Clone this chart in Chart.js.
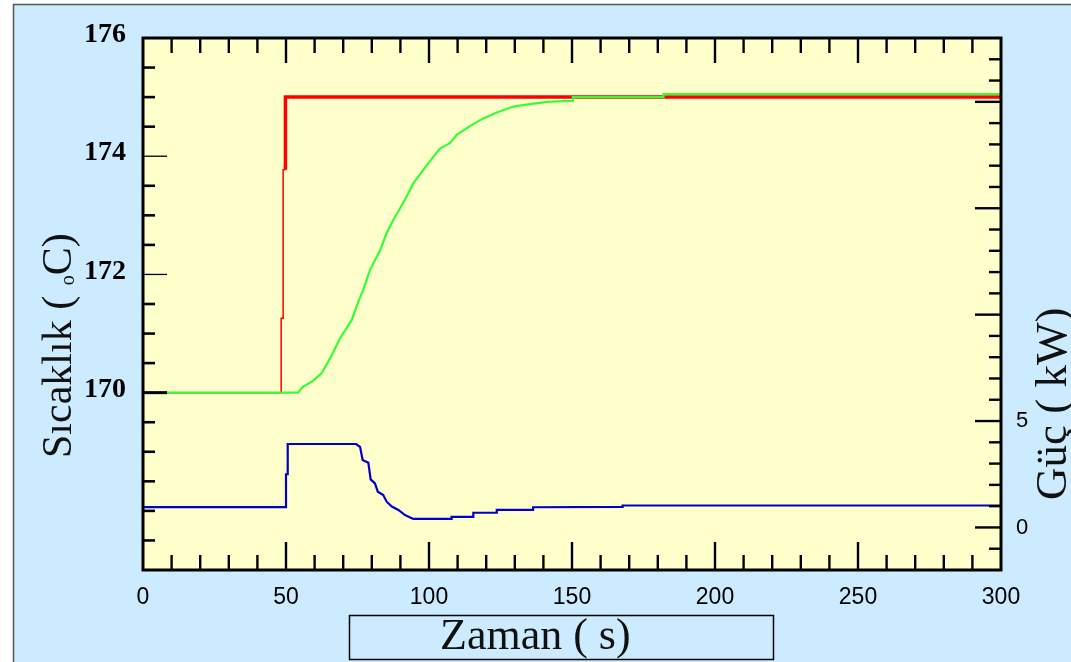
<!DOCTYPE html>
<html><head><meta charset="utf-8">
<script src="https://cdn.jsdelivr.net/npm/chart.js@4.4.0/dist/chart.umd.min.js"></script>
<style>html,body{margin:0;padding:0;background:#fff;overflow:hidden}canvas{display:block}</style>
</head><body>
<canvas id="c" width="1071" height="662"></canvas>
<script>
// ---- tick labels ----
const xTickLabels = [0, 50, 100, 150, 200, 250, 300];
const leftTickLabels = [170, 172, 174, 176];
const rightTickLabels = [0, 5];

// ---- set point (red), °C ----
const setTime = [0, 48.3, 48.3, 49.0, 49.0, 49.8, 49.8, 300];
const setTemp = [170, 170, 171.26, 171.26, 173.77, 173.77, 175, 175];

// ---- measured temperature (green), °C ----
const tempTime = [0, 54.2, 55.9, 59.4, 62.5, 65.4, 68.9, 73.0, 75.3, 77.0, 79.4, 82.9, 85.2, 87.5, 89.9,
  92.2, 94.5, 98.0, 100.9, 103.8, 107.3, 109.7, 114.3, 119.0, 123.7, 129.5, 135.3, 141.2, 150.3, 150.3,
  182, 182, 300];
const tempValue = [170, 170, 170.10, 170.20, 170.33, 170.58, 170.92, 171.23, 171.54, 171.74, 172.08, 172.41,
  172.70, 172.92, 173.12, 173.32, 173.54, 173.77, 173.95, 174.13, 174.22, 174.36, 174.51, 174.64, 174.74,
  174.84, 174.88, 174.92, 174.94, 175.0, 175.0, 175.05, 175.05];

// ---- heater power (blue), kW ----
const powTime = [0, 50, 50, 50.6, 50.6, 74.5, 75.9, 76.8, 78.8, 79.6, 81.1, 82.1, 84.0, 85.2, 87.0, 89.3,
  91.6, 94.5, 107.9, 107.9, 115.5, 115.5, 123.7, 123.7, 136.4, 136.4, 167.7, 167.7, 300];
const powValue = [0.95, 0.95, 2.50, 2.50, 3.92, 3.92, 3.79, 3.17, 3.04, 2.26, 2.07, 1.68, 1.52, 1.21, 0.98,
  0.82, 0.58, 0.40, 0.40, 0.50, 0.50, 0.69, 0.69, 0.83, 0.83, 0.95, 0.97, 1.03, 1.03];

const pts = (xs, ys) => xs.map((x, i) => ({ x: x, y: ys[i] }));

const SERIF = "'Liberation Serif', 'DejaVu Serif', serif";
const SANS = "'Liberation Sans', 'DejaVu Sans', sans-serif";

const decor = {
  id: 'decor',
  beforeDraw(chart) {
    const { ctx, chartArea: a, width, height } = chart;
    ctx.save();
    ctx.fillStyle = '#ffffff';
    ctx.fillRect(0, 0, width, height);
    ctx.fillStyle = '#CCEBFF';
    ctx.fillRect(13, 4, width - 13, height - 4);
    ctx.strokeStyle = '#555555';
    ctx.lineWidth = 1.5;
    ctx.beginPath();
    ctx.moveTo(13.5, height); ctx.lineTo(13.5, 4.5); ctx.lineTo(width, 4.5);
    ctx.stroke();
    ctx.fillStyle = '#FFFFCC';
    ctx.fillRect(a.left, a.top, a.right - a.left, a.bottom - a.top);
    ctx.restore();
  },
  afterDatasetsDraw(chart) {
    const { ctx, chartArea: a, scales } = chart;
    ctx.save();
    ctx.strokeStyle = '#000';
    const line = (x1, y1, x2, y2, w) => {
      ctx.lineWidth = w; ctx.beginPath(); ctx.moveTo(x1, y1); ctx.lineTo(x2, y2); ctx.stroke();
    };
    const xs = scales.x;
    for (let v = 10; v < 300; v += 10) {
      const p = xs.getPixelForValue(v);
      const major = v % 50 === 0;
      line(p, a.bottom, p, a.bottom - (major ? 28 : 15), 2.4);
      line(p, a.top, p, a.top + (major ? 25 : 15), 2.4);
    }
    const yl = scales.y;
    for (let v = 167.5; v < 176; v += 0.5) {
      const p = yl.getPixelForValue(v);
      const major = leftTickLabels.includes(v);
      line(a.left, p, a.left + (major ? 24 : 12), p, major ? (v === 170 ? 3 : 1.3) : 2.6);
    }
    const yr = scales.y2;
    for (let v = -1; v < 23; v += 1) {
      const p = yr.getPixelForValue(v);
      const major = v % 5 === 0;
      line(a.right, p, a.right - (major ? 26 : 12), p, 2.4);
    }
    ctx.lineWidth = 3;
    ctx.strokeRect(a.left, a.top, a.right - a.left, a.bottom - a.top);
    ctx.restore();
  },
  afterDraw(chart) {
    const { ctx } = chart;
    ctx.save();
    ctx.fillStyle = '#111';
    ctx.textBaseline = 'alphabetic';
    ctx.textAlign = 'left';
    ctx.strokeStyle = '#000';
    ctx.lineWidth = 1.5;
    ctx.strokeRect(349.5, 615.5, 424, 44);
    ctx.font = '44px ' + SERIF;
    ctx.fillText('Zaman ( s)', 440, 649);
    ctx.save();
    ctx.translate(71, 458);
    ctx.rotate(-Math.PI / 2);
    ctx.font = '42px ' + SERIF;
    const part1 = 'Sıcaklık ( ';
    ctx.fillText(part1, 0, 0);
    let w = ctx.measureText(part1).width;
    ctx.font = '20px ' + SERIF;
    ctx.fillText('o', w, 3);
    w += ctx.measureText('o').width;
    ctx.font = '42px ' + SERIF;
    ctx.fillText('C)', w, 0);
    ctx.restore();
    ctx.save();
    ctx.translate(1066, 500);
    ctx.rotate(-Math.PI / 2);
    ctx.font = '45px ' + SERIF;
    ctx.fillText('Güç ( kW)', 0, 0);
    ctx.restore();
    ctx.restore();
  }
};

new Chart(document.getElementById('c'), {
  type: 'line',
  data: {
    datasets: [
      { label: 'Sıcaklık', data: pts(tempTime, tempValue), yAxisID: 'y', borderColor: '#33FF33', borderWidth: 2.2, order: 0 },
      { label: 'Set', data: pts(setTime, setTemp), yAxisID: 'y', borderColor: '#FF0000', borderWidth: 3.5, order: 1,
        segment: { borderWidth: c => (c.p0.parsed.x < 49.5 ? 1.5 : 3.5) } },
      { label: 'Güç', data: pts(powTime, powValue), yAxisID: 'y2', borderColor: '#0000CC', borderWidth: 2.2, order: 2 }
    ]
  },
  options: {
    responsive: false,
    animation: false,
    devicePixelRatio: 1,
    elements: { point: { radius: 0 }, line: { tension: 0, fill: false, borderJoinStyle: 'miter', borderCapStyle: 'butt' } },
    layout: { padding: { top: 38, left: 0, right: 0, bottom: 0 } },
    plugins: { legend: { display: false }, tooltip: { enabled: false } },
    scales: {
      x: {
        type: 'linear', position: 'bottom', min: 0, max: 300,
        grid: { display: false, drawTicks: false }, border: { display: false },
        afterBuildTicks: s => { s.ticks = xTickLabels.map(v => ({ value: v })); },
        afterFit: s => { s.height = 92; },
        ticks: { padding: 14, maxRotation: 0, autoSkip: false, color: '#000', font: { family: SANS, size: 23 } }
      },
      y: {
        type: 'linear', position: 'left', min: 167, max: 176,
        grid: { display: false, drawTicks: false }, border: { display: false },
        afterBuildTicks: s => { s.ticks = leftTickLabels.map(v => ({ value: v })); },
        afterFit: s => { s.width = 143; },
        ticks: { padding: 17, labelOffset: -3, autoSkip: false, color: '#000', font: { family: SERIF, size: 28, weight: 'bold' } }
      },
      y2: {
        type: 'linear', position: 'right', min: -2, max: 23,
        grid: { display: false, drawTicks: false }, border: { display: false },
        afterBuildTicks: s => { s.ticks = rightTickLabels.map(v => ({ value: v })); },
        afterFit: s => { s.width = 70; },
        ticks: { padding: 15, autoSkip: false, color: '#000', font: { family: SANS, size: 22 } }
      }
    }
  },
  plugins: [decor]
});
</script>
</body></html>
